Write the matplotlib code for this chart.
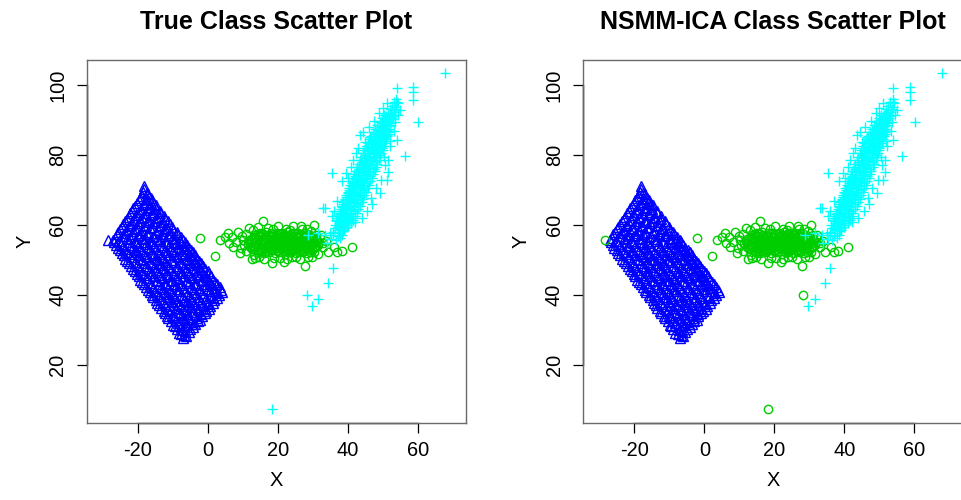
import numpy as np
import matplotlib.pyplot as plt
import matplotlib.transforms as mtransforms

# class colours as in R: 1 = blue triangles, 2 = green3 circles, 3 = cyan pluses
blue_pts = [
    (-7.1, 27.8), (-6.8, 28.6),
    (-8.3, 29.3), (-6.5, 29.9), (-5.4, 29.6),
    (-9.4, 31.2), (-7.6, 30.8), (-5.9, 31.4), (-4.2, 30.9),
    (-10.5, 32.7), (-8.4, 32.2), (-6.6, 32.9), (-4.9, 32.4), (-2.9, 32.6),
    (-11.6, 34.2), (-9.7, 33.8), (-7.4, 34.3), (-5.6, 33.9), (-3.5, 34.4), (-1.7, 34.0),
    (-12.6, 35.4), (-10.4, 35.9), (-8.6, 35.3), (-6.3, 35.7), (-4.4, 35.2), (-2.5, 35.8), (-0.5, 35.4),
    (-13.8, 37.1), (-11.9, 36.8), (-9.8, 37.3), (-7.7, 36.9), (-5.5, 37.4), (-3.6, 36.7), (-1.4, 37.2), (0.8, 36.9),
    (-14.8, 38.6), (-12.7, 38.2), (-10.6, 38.8), (-8.9, 38.4), (-6.8, 38.7), (-4.5, 38.3), (-2.6, 38.9), (-0.3, 38.4), (1.9, 38.7),
    (-15.9, 40.1), (-13.8, 39.7), (-11.7, 40.3), (-9.6, 39.8), (-7.5, 40.2), (-5.4, 39.9), (-3.3, 40.4), (-1.2, 39.7), (1.0, 40.2), (3.3, 40.0),
    (-17.0, 41.6), (-15.0, 41.2), (-12.8, 41.8), (-10.7, 41.3), (-8.6, 41.7), (-6.4, 41.2), (-4.3, 41.8), (-2.2, 41.4), (0.1, 41.7), (2.2, 41.3), (3.9, 41.6),
    (-18.1, 43.1), (-16.1, 42.7), (-13.9, 43.3), (-11.8, 42.8), (-9.6, 43.2), (-7.5, 42.9), (-5.3, 43.4), (-3.2, 42.8), (-1.0, 43.2), (1.1, 42.9), (2.8, 43.3),
    (-19.2, 44.4), (-17.0, 44.9), (-14.9, 44.3), (-12.7, 44.8), (-10.6, 44.4), (-8.4, 44.7), (-6.3, 44.2), (-4.1, 44.8), (-2.0, 44.3), (0.1, 44.7), (1.6, 44.4),
    (-20.2, 46.2), (-18.1, 45.7), (-15.9, 46.3), (-13.8, 45.8), (-11.6, 46.2), (-9.5, 45.9), (-7.3, 46.4), (-5.2, 45.8), (-3.0, 46.2), (-1.0, 45.9), (0.4, 46.3),
    (-21.3, 47.6), (-19.2, 47.2), (-17.0, 47.8), (-14.8, 47.3), (-12.7, 47.7), (-10.5, 47.2), (-8.4, 47.8), (-6.2, 47.3), (-4.1, 47.7), (-2.0, 47.2), (-0.7, 47.6),
    (-22.4, 49.1), (-20.3, 48.7), (-18.1, 49.3), (-15.9, 48.8), (-13.8, 49.2), (-11.6, 48.9), (-9.5, 49.4), (-7.3, 48.8), (-5.2, 49.2), (-3.1, 48.9), (-1.9, 49.3),
    (-23.5, 50.4), (-21.4, 50.9), (-19.2, 50.3), (-17.0, 50.8), (-14.9, 50.4), (-12.7, 50.7), (-10.6, 50.2), (-8.4, 50.8), (-6.3, 50.3), (-4.2, 50.7), (-3.1, 50.4),
    (-24.6, 52.2), (-22.5, 51.7), (-20.3, 52.3), (-18.1, 51.8), (-16.0, 52.2), (-13.8, 51.9), (-11.7, 52.4), (-9.5, 51.8), (-7.4, 52.2), (-5.3, 51.9), (-4.2, 52.3),
    (-25.7, 53.6), (-23.6, 53.2), (-21.4, 53.8), (-19.2, 53.3), (-17.1, 53.7), (-14.9, 53.2), (-12.8, 53.8), (-10.6, 53.3), (-8.5, 53.7), (-6.4, 53.2), (-5.4, 53.6),
    (-26.8, 55.1), (-24.7, 54.7), (-22.5, 55.3), (-20.3, 54.8), (-18.2, 55.2), (-16.0, 54.9), (-13.9, 55.4), (-11.7, 54.8), (-9.6, 55.2), (-7.5, 54.9), (-6.6, 55.3),
    (-26.5, 56.4), (-24.4, 56.9), (-22.2, 56.3), (-20.0, 56.8), (-17.9, 56.4), (-15.7, 56.7), (-13.6, 56.2), (-11.4, 56.8), (-9.3, 56.3), (-7.7, 56.6),
    (-25.6, 58.2), (-23.5, 57.7), (-21.3, 58.3), (-19.1, 57.8), (-17.0, 58.2), (-14.8, 57.9), (-12.7, 58.4), (-10.5, 57.8), (-8.9, 58.1),
    (-24.6, 59.4), (-22.5, 59.9), (-20.3, 59.3), (-18.1, 59.8), (-16.0, 59.4), (-13.8, 59.7), (-11.7, 59.2), (-10.1, 59.6),
    (-23.6, 61.2), (-21.5, 60.7), (-19.3, 61.3), (-17.1, 60.8), (-15.0, 61.2), (-12.8, 60.9), (-11.2, 61.3),
    (-22.6, 62.4), (-20.5, 62.9), (-18.3, 62.3), (-16.1, 62.8), (-14.0, 62.4), (-12.4, 62.7),
    (-21.6, 64.2), (-19.5, 63.7), (-17.3, 64.3), (-15.2, 63.8), (-13.5, 64.1),
    (-20.7, 65.4), (-18.6, 65.9), (-16.4, 65.3), (-14.7, 65.7),
    (-19.7, 67.2), (-17.6, 66.7), (-15.9, 67.1),
    (-18.8, 68.4), (-17.0, 68.8),
    (-18.1, 70.3),
]

blue_fill = [
    (-7.6, 28.9), (-6.1, 28.5),
    (-8.9, 30.4), (-7.2, 30.0), (-5.1, 30.5),
    (-9.9, 31.6), (-8.0, 32.0), (-6.3, 31.5), (-4.3, 31.9), (-3.6, 31.7),
    (-11.2, 33.4), (-9.0, 33.0), (-7.1, 33.5), (-5.0, 33.1), (-3.1, 33.6), (-2.2, 33.0),
    (-12.3, 34.9), (-10.1, 34.5), (-8.0, 35.0), (-5.9, 34.6), (-3.9, 35.1), (-1.9, 34.6), (-0.9, 35.0),
    (-13.4, 36.4), (-11.3, 36.0), (-9.1, 36.5), (-7.0, 36.1), (-4.9, 36.6), (-2.9, 36.0), (-0.9, 36.4), (0.4, 36.2),
    (-14.4, 37.9), (-12.3, 37.5), (-10.2, 38.0), (-8.1, 37.6), (-5.9, 38.1), (-3.9, 37.5), (-1.8, 38.0), (0.2, 37.6), (1.6, 37.9),
    (-15.5, 39.4), (-13.4, 39.0), (-11.3, 39.5), (-9.2, 39.1), (-7.0, 39.6), (-4.9, 39.0), (-2.8, 39.5), (-0.6, 39.1), (1.4, 39.5), (2.8, 39.2),
    (-16.6, 40.9), (-14.5, 40.5), (-12.4, 41.0), (-10.2, 40.6), (-8.1, 41.1), (-5.9, 40.5), (-3.8, 41.0), (-1.6, 40.6), (0.6, 41.1), (2.7, 40.7), (4.2, 40.9),
    (-17.6, 42.4), (-15.5, 42.0), (-13.4, 42.5), (-11.2, 42.1), (-9.1, 42.6), (-6.9, 42.0), (-4.8, 42.5), (-2.6, 42.1), (-0.5, 42.6), (1.7, 42.1), (3.4, 42.4),
    (-18.7, 43.9), (-16.6, 43.5), (-14.4, 44.0), (-12.2, 43.6), (-10.1, 44.1), (-7.9, 43.5), (-5.8, 44.0), (-3.6, 43.6), (-1.5, 44.1), (0.6, 43.6), (2.2, 43.9),
    (-19.7, 45.4), (-17.6, 45.0), (-15.4, 45.5), (-13.3, 45.1), (-11.1, 45.6), (-9.0, 45.0), (-6.8, 45.5), (-4.7, 45.1), (-2.5, 45.6), (-0.5, 45.1), (1.0, 45.4),
    (-20.8, 46.9), (-18.7, 46.5), (-16.5, 47.0), (-14.3, 46.6), (-12.2, 47.1), (-10.0, 46.5), (-7.9, 47.0), (-5.7, 46.6), (-3.6, 47.1), (-1.5, 46.6), (0.0, 46.9),
    (-21.9, 48.4), (-19.7, 48.0), (-17.6, 48.5), (-15.4, 48.1), (-13.2, 48.6), (-11.1, 48.0), (-8.9, 48.5), (-6.8, 48.1), (-4.6, 48.6), (-2.5, 48.1), (-1.2, 48.4),
    (-23.0, 49.9), (-20.8, 49.5), (-18.7, 50.0), (-16.5, 49.6), (-14.3, 50.1), (-12.2, 49.5), (-10.0, 50.0), (-7.9, 49.6), (-5.7, 50.1), (-3.6, 49.6), (-2.4, 49.9),
    (-24.0, 51.4), (-21.9, 51.0), (-19.7, 51.5), (-17.6, 51.1), (-15.4, 51.6), (-13.2, 51.0), (-11.1, 51.5), (-8.9, 51.1), (-6.8, 51.6), (-4.7, 51.1), (-3.6, 51.4),
    (-25.1, 52.9), (-23.0, 52.5), (-20.8, 53.0), (-18.7, 52.6), (-16.5, 53.1), (-14.3, 52.5), (-12.2, 53.0), (-10.0, 52.6), (-7.9, 53.1), (-5.8, 52.6), (-4.8, 52.9),
    (-26.2, 54.4), (-24.1, 54.0), (-21.9, 54.5), (-19.8, 54.1), (-17.6, 54.6), (-15.4, 54.0), (-13.3, 54.5), (-11.1, 54.1), (-9.0, 54.6), (-6.9, 54.1), (-6.0, 54.4),
    (-27.0, 55.9), (-25.2, 55.5), (-23.0, 56.0), (-20.9, 55.6), (-18.7, 56.1), (-16.5, 55.5), (-14.4, 56.0), (-12.2, 55.6), (-10.1, 56.1), (-8.0, 55.6), (-7.0, 55.9),
    (-26.0, 57.4), (-23.9, 57.0), (-21.7, 57.5), (-19.6, 57.1), (-17.4, 57.6), (-15.2, 57.0), (-13.1, 57.5), (-10.9, 57.1), (-8.8, 57.5),
    (-25.1, 58.9), (-23.0, 58.5), (-20.8, 59.0), (-18.7, 58.6), (-16.5, 59.1), (-14.3, 58.5), (-12.2, 59.0), (-9.8, 58.7),
    (-24.1, 60.4), (-22.0, 60.0), (-19.8, 60.5), (-17.7, 60.1), (-15.5, 60.6), (-13.3, 60.0), (-10.9, 60.3),
    (-23.1, 61.9), (-21.0, 61.5), (-18.8, 62.0), (-16.7, 61.6), (-14.5, 62.1), (-12.3, 61.7),
    (-22.1, 63.4), (-20.0, 63.0), (-17.8, 63.5), (-15.7, 63.1), (-13.6, 63.4),
    (-21.2, 64.9), (-19.1, 64.5), (-16.9, 65.0), (-14.9, 64.7),
    (-20.2, 66.4), (-18.1, 66.0), (-16.2, 66.4), (-15.2, 66.0),
    (-19.3, 67.9), (-17.3, 67.5), (-16.3, 67.8),
    (-18.5, 69.4), (-17.4, 69.1),
    (-18.2, 71.2),
]

green_pts = [
    (14.5, 52.3), (16.0, 52.0), (17.6, 52.4), (19.1, 52.1), (20.7, 52.3), (22.2, 51.9), (23.8, 52.4), (25.3, 52.0), (26.9, 52.3), (28.4, 52.1),
    (12.8, 53.1), (14.3, 52.8), (15.9, 53.2), (17.4, 52.9), (19.0, 53.1), (20.5, 52.8), (22.1, 53.2), (23.6, 52.9), (25.2, 53.1), (26.7, 52.8), (28.3, 53.2), (29.8, 52.9),
    (12.1, 53.7), (13.6, 54.0), (15.2, 53.7), (16.7, 53.9), (18.3, 53.6), (19.8, 54.0), (21.4, 53.7), (22.9, 53.9), (24.5, 53.6), (26.0, 54.0), (27.6, 53.7), (29.1, 53.9), (30.7, 53.7),
    (11.4, 54.6), (12.9, 54.4), (14.5, 54.7), (16.0, 54.5), (17.6, 54.7), (19.1, 54.4), (20.7, 54.6), (22.2, 54.8), (23.8, 54.5), (25.3, 54.7), (26.9, 54.4), (28.4, 54.6), (30.0, 54.8), (31.5, 54.5),
    (11.8, 55.5), (13.3, 55.3), (14.9, 55.6), (16.4, 55.3), (18.0, 55.5), (19.5, 55.2), (21.1, 55.6), (22.6, 55.3), (24.2, 55.5), (25.7, 55.2), (27.3, 55.6), (28.8, 55.3), (30.4, 55.5), (31.8, 55.2),
    (12.3, 56.1), (13.8, 56.3), (15.4, 56.0), (16.9, 56.3), (18.5, 56.1), (20.0, 56.4), (21.6, 56.1), (23.1, 56.3), (24.7, 56.0), (26.2, 56.3), (27.8, 56.1), (29.3, 56.3), (30.9, 56.0),
    (13.6, 57.1), (15.1, 56.9), (16.7, 57.2), (18.2, 56.9), (19.8, 57.1), (21.3, 56.8), (22.9, 57.1), (24.4, 56.9), (26.0, 57.2), (27.5, 56.9), (29.1, 57.1),
    (15.0, 57.8), (16.6, 58.0), (18.1, 57.7), (19.7, 57.9), (21.2, 57.7), (22.8, 58.0), (24.3, 57.7), (25.9, 57.9), (27.4, 57.8),
    # looser edge of the cloud
    (-2.2, 56.3), (2.2, 51.2), (3.6, 55.7), (5.0, 56.6), (5.9, 57.9), (7.3, 53.9), (8.2, 55.2),
    (8.8, 58.0), (9.2, 52.0), (9.8, 56.9), (10.5, 54.3), (11.9, 59.2), (12.6, 50.4), (10.9, 57.4),
    (15.9, 61.1), (17.2, 59.3), (20.2, 59.8), (22.5, 59.0), (24.3, 59.9), (26.8, 59.8), (30.4, 60.2),
    (28.5, 58.9), (18.3, 49.2), (14.8, 50.9), (20.6, 50.6), (22.6, 50.3), (25.1, 50.9), (27.9, 48.4),
    (29.8, 50.8), (31.6, 51.9), (32.9, 53.9), (33.8, 55.6), (34.4, 52.4), (36.9, 52.5), (38.3, 52.6),
    (41.1, 53.7), (36.2, 53.9), (32.3, 57.2), (13.2, 51.5), (11.0, 52.6),
    (13.0, 58.5), (14.5, 59.6), (18.7, 58.8), (23.5, 58.6), (27.0, 58.8), (29.5, 58.3), (31.0, 57.3),
    (32.5, 56.0), (33.0, 54.8), (13.5, 50.6), (16.2, 50.3), (19.0, 50.6), (21.8, 49.6), (24.0, 51.0),
    (26.5, 50.5), (28.7, 51.0), (30.5, 52.3), (9.5, 53.5), (10.2, 55.8), (7.0, 56.5), (6.2, 54.8),
]

green_fill = [
    (15.2, 52.7), (16.8, 52.5), (18.3, 52.8), (19.9, 52.6), (21.4, 52.7), (23.0, 52.5), (24.5, 52.8), (26.1, 52.6), (27.6, 52.7), (29.2, 52.5),
    (13.5, 53.4), (15.0, 53.3), (16.6, 53.5), (18.1, 53.3), (19.7, 53.4), (21.2, 53.5), (22.8, 53.3), (24.3, 53.4), (25.9, 53.5), (27.4, 53.3), (29.0, 53.4), (30.4, 53.5),
    (12.5, 54.2), (14.0, 54.1), (15.6, 54.3), (17.1, 54.2), (18.7, 54.1), (20.2, 54.3), (21.8, 54.2), (23.3, 54.1), (24.9, 54.3), (26.4, 54.2), (28.0, 54.1), (29.5, 54.3), (31.0, 54.2),
    (12.2, 55.0), (13.7, 55.1), (15.3, 54.9), (16.8, 55.0), (18.4, 55.1), (19.9, 54.9), (21.5, 55.0), (23.0, 55.1), (24.6, 54.9), (26.1, 55.0), (27.7, 55.1), (29.2, 54.9), (30.8, 55.0),
    (12.7, 55.8), (14.2, 55.9), (15.8, 55.7), (17.3, 55.8), (18.9, 55.9), (20.4, 55.7), (22.0, 55.8), (23.5, 55.9), (25.1, 55.7), (26.6, 55.8), (28.2, 55.9), (29.7, 55.7), (31.2, 55.8),
    (13.2, 56.6), (14.7, 56.7), (16.3, 56.5), (17.8, 56.6), (19.4, 56.7), (20.9, 56.5), (22.5, 56.6), (24.0, 56.7), (25.6, 56.5), (27.1, 56.6), (28.7, 56.7), (30.1, 56.5),
    (14.4, 57.4), (15.9, 57.5), (17.5, 57.3), (19.0, 57.4), (20.6, 57.5), (22.1, 57.3), (23.7, 57.4), (25.2, 57.5), (26.8, 57.3), (28.3, 57.4),
]

cyan_pts = [
    (35.2, 56.1), (36.6, 55.8), (37.8, 56.3),
    (35.8, 57.2), (37.1, 56.9), (38.4, 57.1),
    (35.9, 58.1), (37.4, 57.8), (38.7, 58.3),
    (36.4, 59.2), (37.9, 58.9), (39.1, 59.1),
    (36.3, 60.1), (37.6, 59.8), (39.0, 60.3), (40.1, 60.0),
    (36.9, 61.2), (38.2, 60.9), (39.6, 61.1),
    (37.0, 62.1), (38.5, 61.8), (40.0, 62.3), (41.2, 62.0),
    (37.7, 63.2), (39.1, 62.9), (40.6, 63.1),
    (37.8, 64.1), (39.3, 63.8), (40.9, 64.3), (42.0, 64.0),
    (38.5, 65.2), (39.9, 64.9), (41.4, 65.1),
    (38.6, 66.1), (40.1, 65.8), (41.7, 66.3), (42.9, 66.0),
    (39.3, 67.2), (40.8, 66.9), (42.3, 67.1),
    (39.5, 68.1), (41.0, 67.8), (42.6, 68.3), (43.8, 68.0),
    (40.2, 69.2), (41.7, 68.9), (43.2, 69.1),
    (40.4, 70.1), (41.9, 69.8), (43.5, 70.3), (44.7, 70.0),
    (41.1, 71.2), (42.6, 70.9), (44.1, 71.1),
    (41.3, 72.1), (42.8, 71.8), (44.4, 72.3), (45.6, 72.0),
    (42.0, 73.2), (43.5, 72.9), (45.0, 73.1),
    (42.2, 74.1), (43.7, 73.8), (45.3, 74.3), (46.5, 74.0),
    (42.9, 75.2), (44.4, 74.9), (45.9, 75.1),
    (43.1, 76.1), (44.6, 75.8), (46.2, 76.3), (47.4, 76.0),
    (43.8, 77.2), (45.3, 76.9), (46.8, 77.1),
    (44.0, 78.1), (45.5, 77.8), (47.1, 78.3), (48.2, 78.0),
    (44.7, 79.2), (46.2, 78.9), (47.7, 79.1),
    (44.9, 80.1), (46.4, 79.8), (48.0, 80.3), (49.1, 80.0),
    (45.6, 81.2), (47.1, 80.9), (48.6, 81.1),
    (45.9, 82.1), (47.4, 81.8), (48.9, 82.3), (49.9, 82.0),
    (46.6, 83.2), (48.0, 82.9), (49.5, 83.1),
    (46.9, 84.1), (48.3, 83.8), (49.8, 84.3), (50.7, 84.0),
    (47.6, 85.2), (48.9, 84.9), (50.3, 85.1),
    (48.0, 86.1), (49.3, 85.8), (50.7, 86.3), (51.5, 86.0),
    (48.7, 87.2), (50.0, 86.9), (51.3, 87.1),
    (49.2, 88.1), (50.4, 87.8), (51.7, 88.3),
    (49.8, 89.2), (51.0, 88.9), (52.1, 89.1),
    (50.3, 90.1), (51.5, 89.8), (52.6, 90.3),
    (50.9, 91.2), (52.0, 90.9), (53.0, 91.1),
    (51.5, 92.1), (52.5, 91.8), (53.4, 92.3),
    (52.0, 93.2), (53.2, 92.9),
    (52.6, 94.1), (53.8, 93.8),
    (53.1, 95.2), (54.3, 94.9),
    (53.9, 96.0),
    # scattered pluses
    (67.8, 103.4), (54.0, 99.1), (58.7, 99.6), (58.7, 98.2), (58.7, 95.8), (60.2, 89.6),
    (54.0, 84.4), (56.4, 79.8), (35.4, 74.8), (33.5, 64.8), (43.5, 85.8), (35.9, 47.7),
    (34.5, 43.6), (31.6, 38.9), (29.7, 37.0), (51.6, 75.3), (51.1, 72.9), (51.1, 94.8),
    (35.4, 62.5), (33.5, 57.3), (44.9, 83.7), (46.4, 85.1), (48.3, 86.5), (51.1, 85.8),
    (52.1, 82.5), (51.6, 78.6), (50.7, 77.2), (49.2, 69.1), (46.8, 67.7), (42.1, 61.0),
    (28.7, 57.2), (33.0, 64.8), (36.8, 61.5), (34.9, 57.7), (31.6, 57.7), (34.0, 54.9),
    (53.5, 93.3), (54.0, 95.2),
    (38.5, 72.5), (39.5, 75.0), (40.2, 73.5), (41.0, 76.5), (41.5, 78.5), (42.5, 80.5),
    (43.0, 82.0), (44.5, 86.5), (46.0, 88.0), (47.5, 89.8), (49.0, 92.0), (50.0, 93.5),
    (45.5, 64.0), (47.0, 66.0), (48.0, 70.5), (49.5, 73.0), (50.5, 79.5), (52.0, 84.0),
    (53.2, 87.0), (53.5, 89.5), (54.5, 91.5), (55.0, 93.0), (44.0, 62.0), (36.0, 64.0),
    (37.0, 67.0),
]

cyan_fill = [
    (37.3, 58.5), (38.9, 58.6),
    (37.2, 59.5), (38.4, 59.4), (39.8, 59.6),
    (37.4, 60.5), (38.6, 60.4), (39.9, 60.6), (41.0, 60.5),
    (37.3, 61.5), (38.9, 61.6), (40.3, 61.4), (41.6, 61.5),
    (37.6, 62.5), (39.1, 62.4), (40.6, 62.6), (42.1, 62.5),
    (37.8, 63.5), (39.4, 63.6), (41.0, 63.4), (42.6, 63.5),
    (38.1, 64.5), (39.8, 64.4), (41.4, 64.6), (43.0, 64.5),
    (38.4, 65.5), (40.1, 65.6), (41.9, 65.4), (43.6, 65.5),
    (38.8, 66.5), (40.5, 66.4), (42.3, 66.6), (44.0, 66.5),
    (39.2, 67.5), (40.9, 67.6), (42.7, 67.4), (44.4, 67.5),
    (39.6, 68.5), (41.3, 68.4), (43.1, 68.6), (44.8, 68.5),
    (40.0, 69.5), (41.7, 69.6), (43.5, 69.4), (45.2, 69.5),
    (40.3, 70.5), (42.1, 70.4), (43.9, 70.6), (45.7, 70.5),
    (40.7, 71.5), (42.5, 71.6), (44.3, 71.4), (46.1, 71.5),
    (41.1, 72.5), (42.9, 72.4), (44.7, 72.6), (46.5, 72.5),
    (41.5, 73.5), (43.3, 73.6), (45.1, 73.4), (46.9, 73.5),
    (41.9, 74.5), (43.7, 74.4), (45.5, 74.6), (47.3, 74.5),
    (42.3, 75.5), (44.1, 75.6), (45.9, 75.4), (47.7, 75.5),
    (42.7, 76.5), (44.5, 76.4), (46.3, 76.6), (48.1, 76.5),
    (43.1, 77.5), (44.9, 77.6), (46.7, 77.4), (48.5, 77.5),
    (43.5, 78.5), (45.3, 78.4), (47.1, 78.6), (48.9, 78.5),
    (43.9, 79.5), (45.7, 79.6), (47.5, 79.4), (49.3, 79.5),
    (44.4, 80.5), (46.1, 80.4), (47.9, 80.6), (49.6, 80.5),
    (44.8, 81.5), (46.5, 81.6), (48.3, 81.4), (50.0, 81.5),
    (45.3, 82.5), (46.9, 82.4), (48.7, 82.6), (50.3, 82.5),
    (45.7, 83.5), (47.4, 83.6), (49.0, 83.4), (50.7, 83.5),
    (46.2, 84.5), (47.8, 84.4), (49.4, 84.6), (51.0, 84.5),
    (46.7, 85.5), (48.3, 85.6), (49.8, 85.4), (51.3, 85.5),
    (47.2, 86.5), (48.7, 86.4), (50.2, 86.6), (51.6, 86.5),
    (47.8, 87.5), (49.2, 87.6), (50.5, 87.4), (51.9, 87.5),
    (48.4, 88.5), (49.7, 88.4), (51.0, 88.6), (52.2, 88.5),
    (49.1, 89.5), (50.2, 89.6), (51.3, 89.4), (52.4, 89.5),
    (49.8, 90.5), (50.8, 90.4), (51.8, 90.6), (52.8, 90.5),
    (50.5, 91.5), (51.4, 91.6), (52.3, 91.4), (53.2, 91.5),
]

# points whose predicted class differs from the true class
switched_pts = [(-28.5, 55.7), (28.3, 40.2), (18.3, 7.4)]
switched_true = [1, 3, 3]
switched_pred = [2, 2, 2]

titles = ["True Class Scatter Plot", "NSMM-ICA Class Scatter Plot"]
x_ticks = [-20, 0, 20, 40, 60]
y_ticks = [20, 40, 60, 80, 100]

styles = {
    1: dict(marker="^", ms=7.0, mfc="none", mec="#0000FF", mew=1.0),
    2: dict(marker="o", ms=6.0, mfc="none", mec="#00CD00", mew=1.0),
    3: dict(marker="+", ms=7.5, mec="#00FFFF", mew=1.0),
}

base_xy = blue_pts + blue_fill + green_pts + green_fill + cyan_pts + cyan_fill
base_cls = ([1] * (len(blue_pts) + len(blue_fill))
            + [2] * (len(green_pts) + len(green_fill))
            + [3] * (len(cyan_pts) + len(cyan_fill)))
xy = np.array(base_xy + switched_pts)
true_cls = np.array(base_cls + switched_true)
pred_cls = np.array(base_cls + switched_pred)

plt.rcParams["font.family"] = ["Liberation Sans", "DejaVu Sans"]
plt.rcParams["axes.unicode_minus"] = False

fig = plt.figure(figsize=(9.62, 5.0), dpi=100)
lefts = [0.0901, 0.6064]
for left, title, cls in zip(lefts, titles, [true_cls, pred_cls]):
    ax = fig.add_axes([left, 0.1546, 0.3943, 0.7254])
    for c in [1, 2, 3]:
        m = cls == c
        ax.plot(xy[m, 0], xy[m, 1], ls="none", **styles[c])
    ax.set_xlim(-34.57, 73.8)
    ax.set_ylim(3.6, 107.2)
    ax.set_xticks(x_ticks)
    ax.set_yticks(y_ticks)
    ax.tick_params(direction="out", length=7, width=0.9, labelsize=14.4, pad=6)
    ax.tick_params(axis="y", pad=7)
    for lab in ax.get_yticklabels():
        lab.set_rotation(90)
        lab.set_va("center")
    for sp in ax.spines.values():
        sp.set_color("#6a6a6a")
        sp.set_linewidth(1.0)
    # R draws a darker axis line between the outer ticks
    tb = mtransforms.blended_transform_factory(ax.transData, ax.transAxes)
    ax.plot([x_ticks[0], x_ticks[-1]], [0, 0], color="black", lw=1.0, transform=tb, clip_on=False)
    tl = mtransforms.blended_transform_factory(ax.transAxes, ax.transData)
    ax.plot([0, 0], [y_ticks[0], y_ticks[-1]], color="black", lw=1.0, transform=tl, clip_on=False)
    ax.set_xlabel("X", fontsize=14.4, labelpad=8)
    ax.set_ylabel("Y", fontsize=14.4, labelpad=10)
    ax.set_title(title, fontsize=18, fontweight="bold", pad=22)

fig.savefig("out.png", dpi=100)
